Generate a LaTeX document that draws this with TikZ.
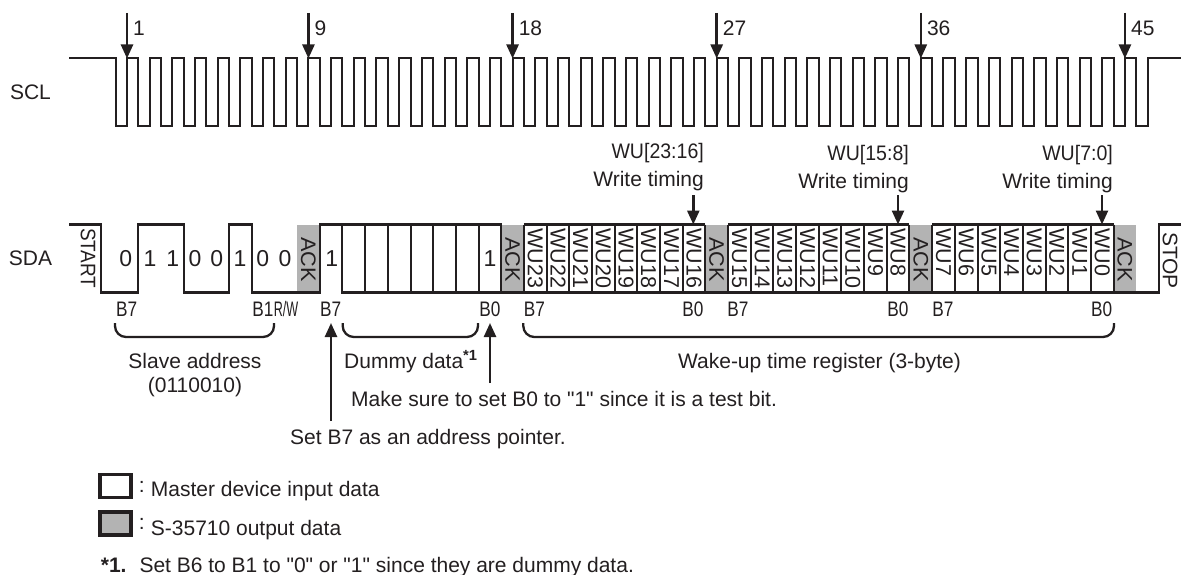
\documentclass[tikz,border=0pt]{standalone}
\usepackage{fontspec}
\newfontfamily\labelfont{Liberation Sans}
\usetikzlibrary{calc, arrows.meta}
\definecolor{ink}{HTML}{231F20}
\definecolor{ackgray}{HTML}{B3B3B3}
\tikzset{
	wave/.style = {line width = 2pt, ink, line join = miter},
	sdaline/.style = {line width = 2.1pt, ink, line join = miter},
	pointer/.style = {line width = 2.5pt, ink, -{Triangle[length = 14pt, width = 12pt]}},
	brace/.style = {line width = 2.3pt, ink, rounded corners = 11pt},
	txt/.style = {inner sep = 0pt, text = ink, anchor = base, font = \labelfont\fontsize{21}{24}\selectfont},
	bitval/.style = {txt, font = \labelfont\fontsize{23}{24}\selectfont},
	narrow/.style = {txt, xscale = 0.82},
	vert/.style = {txt, rotate = -90, anchor = west},
	wubit/.style = {vert, font = \labelfont\fontsize{21.5}{24}\selectfont},
	legbox/.style = {draw = ink, line width = 3.5pt, minimum width = 31pt, minimum height = 23pt, inner sep = 0pt}
}

\begin{document}
\begin{tikzpicture}[x = 1pt, y = -1pt]
		\def\p{22.68};
		\def\first{115.66};
		\def\sclhi{58.5};
		\def\scllo{126.5};
		\def\sdahi{224.5};
		\def\sdalo{292.5};
		
		\useasboundingbox (0,0) rectangle (1181,575);
		
		% SCL
		\begin{scope}
		\node [txt] (scl) at (30.5,99.5) {SCL};
		\draw [wave] (69,\sclhi) -- (115.5,\sclhi) -- (115.5,\scllo) -- (127,\scllo)
			\foreach \k in {1,...,45} { -- ++(0,-68) -- ++(11.34,0) -- ++(0,68) -- ++(11.34,0) }
			-- (1148,\scllo) -- (1148,\sclhi) -- (1181,\sclhi);
		\foreach \n in {1,9,18,27,36,45} {
			\coordinate (tip\n) at ({127 + (\n - 1)*\p},\sclhi);
			\coordinate (tail\n) at ({127 + (\n - 1)*\p},13);
			\draw [pointer] (tail\n) -- (tip\n);
			\node [txt, anchor = base west] (clk\n) at ($(tip\n) + (6,-22.5)$) {\n};
		}
		\end{scope}
		
		% SDA
		\begin{scope}
		\foreach \k in {8,17,26,35,44} {
			\fill [ackgray] ({\first + \k*\p},\sdahi) rectangle ({\first + (\k + 1)*\p},\sdalo);
			\node [vert, anchor = center, xscale = 1.03] (ack\k) at ({\first + (\k + 0.5)*\p},259.5) {ACK};
		}
		\node [txt] (sda) at (30.5,265.5) {SDA};
		\draw [sdaline] (69,\sdahi) -- (100.7,\sdahi) -- (100.7,\sdalo) -- (138.3,\sdalo) -- (138.3,\sdahi)
			-- (184,\sdahi) -- (184,\sdalo) -- (229.3,\sdalo) -- (229.3,\sdahi) -- (251.8,\sdahi)
			-- (251.8,\sdalo) -- (319.6,\sdalo) -- (319.6,\sdahi) -- (501.2,\sdahi) -- (501.2,\sdalo)
			-- (478.6,\sdalo) -- (478.6,\sdahi);
		\draw [sdaline] (342.4,\sdahi) -- (342.4,\sdalo) -- (478.6,\sdalo);
		\foreach \k in {11,...,15} {
			\draw [wave] ({\first + \k*\p},\sdahi) -- ({\first + \k*\p},\sdalo);
		}
		\draw [sdaline] (501.2,\sdalo) -- (1159.3,\sdalo) -- (1159.3,\sdahi) -- (1181,\sdahi);
		\foreach \a/\b in {18/26,27/35,36/44} {
			\draw [sdaline] ({\first + \a*\p},\sdahi) -- ({\first + \b*\p},\sdahi);
			\foreach \k in {\a,...,\b} {
				\draw [wave] ({\first + \k*\p},\sdahi) -- ({\first + \k*\p},\sdalo);
			}
		}
		\node [vert, xscale = 0.9] (start) at (88,228) {START};
		\node [vert] (stop) at (1170,232) {STOP};
		\foreach \x/\v in {125.7/0,150/1,172.7/1,195/0,216.7/0,240/1,262.7/0,285/0,331.7/1,490/1} {
			\node [bitval] at (\x,266) {\v};
		}
		\foreach \k [evaluate = \k as \w using int(41 - \k)] in {18,...,25} {
			\node [wubit] (wu\w) at ({\first + (\k + 0.5)*\p},228.5) {WU\w};
		}
		\foreach \k [evaluate = \k as \w using int(42 - \k)] in {27,...,34} {
			\node [wubit] (wu\w) at ({\first + (\k + 0.5)*\p},228.5) {WU\w};
		}
		\foreach \k [evaluate = \k as \w using int(43 - \k)] in {36,...,43} {
			\node [wubit] (wu\w) at ({\first + (\k + 0.5)*\p},228.5) {WU\w};
		}
		\end{scope}
		
		% bit names and braces
		\begin{scope}
		\foreach \x/\v in {126.7/B7,263/B1,330.7/B7,490/B0,534.3/B7,693/B0,738/B7,898/B0,943/B7,1101.7/B0} {
			\node [narrow] at (\x,316) {\v};
		}
		\node [txt, xscale = 0.6] (rw) at (286,316) {R/W};
		\foreach \a/\b in {115/274,342.7/478,523.3/1114} {
			\draw [brace] (\a,323) -- (\a,337) -- (\b,337) -- (\b,323);
		}
		\node [txt] (slave) at (195,368.5) {Slave address};
		\node [txt] (slaveval) at (195,392) {(0110010)};
		\node [txt, anchor = base west] (dummy) at (344,368.5) {Dummy data\textsuperscript{\bfseries *1}};
		\node [txt] (wake) at (819.5,368.5) {Wake-up time register (3-byte)};
		\node [txt, anchor = base west] (testbit) at (351,406) {Make sure to set B0 to "1" since it is a test bit.};
		\node [txt, anchor = base west] (ptr) at (290,444) {Set B7 as an address pointer.};
		\coordinate (ptrtip) at (331,323);
		\coordinate (ptrfoot) at (331,421);
		\coordinate (testtip) at (490,323);
		\coordinate (testfoot) at (490,383);
		\draw [pointer] (ptrfoot) -- (ptrtip);
		\draw [pointer] (testfoot) -- (testtip);
		\end{scope}
		
		% write timing
		\begin{scope}
		\foreach \n/\x/\r/\yb in {16/693.3/704/186,8/898/909/188,0/1102/1113/188} {
			\coordinate (wtip\n) at (\x,\sdahi);
			\coordinate (wtail\n) at (\x,195);
			\draw [pointer] (wtail\n) -- (wtip\n);
			\node [txt, anchor = base east] (timing\n) at (\r,\yb) {Write timing};
		}
		\node [txt, anchor = base east, xscale = 0.93] (reg16) at (704,159) {WU[23:16]};
		\node [txt, anchor = base east, xscale = 0.93] (reg8) at (909,160.5) {WU[15:8]};
		\node [txt, anchor = base east, xscale = 0.93] (reg0) at (1113,160.5) {WU[7:0]};
		\end{scope}
		
		% legend
		\begin{scope}
		\node [legbox] (legin) at (115.5,486) {};
		\node [legbox, fill = ackgray] (legout) at (115.5,523.7) {};
		\node [txt] at (141.7,492) {:};
		\node [txt] at (141.7,529) {:};
		\node [txt, anchor = base west] (legintxt) at (150.7,496.7) {Master device input data};
		\node [txt, anchor = base west] (legouttxt) at (150.7,535) {S-35710 output data};
		\node [txt, anchor = base west, font = \labelfont\fontsize{21}{24}\selectfont\bfseries] (noteno) at (100.7,572) {*1.};
		\node [txt, anchor = base west] (note) at (139.3,572) {Set B6 to B1 to "0" or "1" since they are dummy data.};
		\end{scope}
	\end{tikzpicture}
\end{document}
